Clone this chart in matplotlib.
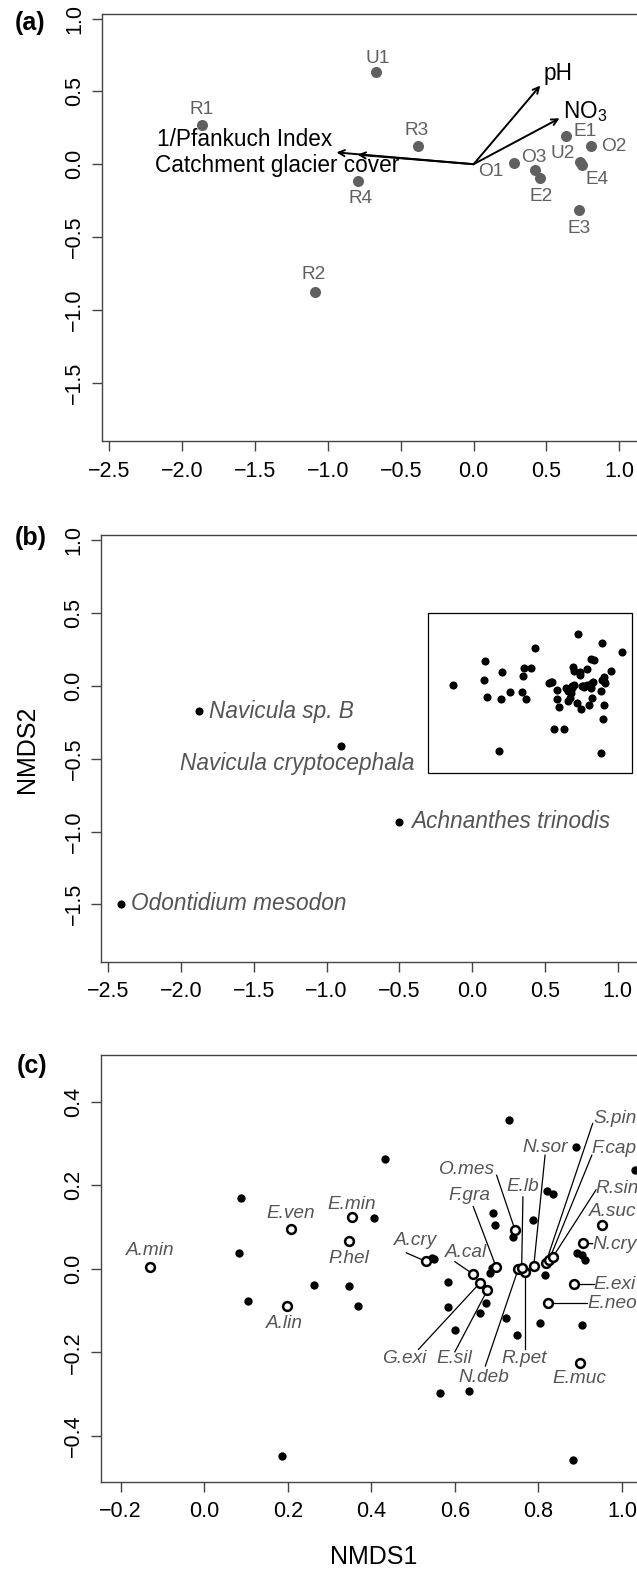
import matplotlib
matplotlib.use("Agg")
import matplotlib.pyplot as plt
from matplotlib.patches import Rectangle

plt.rcParams['font.family'] = ['Liberation Sans', 'DejaVu Sans']
plt.rcParams['mathtext.fontset'] = 'custom'
plt.rcParams['mathtext.rm'] = 'Liberation Sans'
plt.rcParams['mathtext.it'] = 'Liberation Sans:italic'

# (a) site scores
site_names = ['U1', 'R1', 'R3', 'R4', 'R2', 'O1', 'O3', 'E2', 'E1', 'O2', 'U2', 'E4', 'E3']
site_x = [-0.668, -1.864, -0.378, -0.791, -1.089, 0.280, 0.425, 0.459, 0.634, 0.807, 0.732, 0.746, 0.726]
site_y = [0.631, 0.271, 0.122, -0.116, -0.876, 0.008, -0.038, -0.095, 0.191, 0.122, 0.015, -0.008, -0.317]

# (a) fitted environmental vectors
vec_names = ['pH', 'NO$_3$', '1/Pfankuch Index', 'Catchment glacier cover']
vec_x = [0.458, 0.590, -0.941, -0.796]
vec_y = [0.540, 0.315, 0.081, 0.065]

# (b) outlying species
out_names = ['Navicula sp. B', 'Navicula cryptocephala', 'Achnanthes trinodis', 'Odontidium mesodon']
out_x = [-1.876, -0.899, -0.500, -2.415]
out_y = [-0.172, -0.410, -0.932, -1.497]
zoom_box = [-0.3, 1.1, -0.6, 0.5]   # xmin, xmax, ymin, ymax

# (c) unlabelled species
sp_x = [0.729, 0.432, 0.891, 1.032, 0.088, 0.407, 0.082, 0.545, 0.551, 0.692, 0.697, 0.740,
        0.788, 0.820, 0.836, 0.688, 0.683, 0.583, 0.584, 0.600, 0.675, 0.661, 0.723, 0.748,
        0.805, 0.815, 0.904, 0.892, 0.904, 0.912, 0.262, 0.346, 0.369, 0.105, 0.565, 0.633,
        0.187, 0.884]
sp_y = [0.356, 0.262, 0.292, 0.236, 0.170, 0.121, 0.038, 0.026, 0.024, 0.133, 0.105, 0.076,
        0.118, 0.186, 0.178, 0.003, -0.011, -0.031, -0.092, -0.147, -0.081, -0.105, -0.118, -0.159,
        -0.131, -0.016, -0.134, 0.038, 0.033, 0.021, -0.040, -0.041, -0.088, -0.077, -0.298, -0.293,
        -0.448, -0.458]

# (c) labelled species
lab_names = ['A.min', 'E.ven', 'E.min', 'P.hel', 'A.lin', 'A.cry', 'A.cal', 'G.exi', 'E.sil',
             'N.deb', 'R.pet', 'E.muc', 'F.gra', 'O.mes', 'E.lb', 'N.sor', 'S.pin', 'F.cap',
             'R.sin', 'A.suc', 'N.cry', 'E.exi', 'E.neo']
lab_x = [-0.131, 0.208, 0.354, 0.347, 0.197, 0.530, 0.644, 0.660, 0.678, 0.752, 0.767, 0.899,
         0.699, 0.744, 0.760, 0.789, 0.818, 0.826, 0.834, 0.953, 0.906, 0.886, 0.822]
lab_y = [0.005, 0.095, 0.125, 0.066, -0.090, 0.018, -0.013, -0.034, -0.051, 0.000, -0.008, -0.225,
         0.004, 0.093, 0.003, 0.007, 0.015, 0.022, 0.027, 0.106, 0.061, -0.037, -0.081]
# where the label text sits, and where its pointer line starts (None = no line)
text_x = [-0.129, 0.208, 0.353, 0.346, 0.192, 0.505, 0.628, 0.480, 0.599, 0.669, 0.766, 0.897,
          0.636, 0.628, 0.763, 0.817, 0.932, 0.928, 0.936, 0.920, 0.930, 0.932, 0.917]
text_y = [0.043, 0.133, 0.155, 0.025, -0.132, 0.067, 0.038, -0.215, -0.215, -0.261, -0.215, -0.263,
          0.176, 0.238, 0.196, 0.291, 0.360, 0.288, 0.193, 0.137, 0.057, -0.037, -0.083]
text_ha = ['center'] * 16 + ['left'] * 7
line_from = [None, None, None, None, None, (0.484, 0.038), (0.600, 0.017), (0.513, -0.193),
             (0.600, -0.199), (0.673, -0.233), (0.767, -0.193), None, (0.644, 0.149),
             (0.700, 0.224), (0.763, 0.172), (0.816, 0.272), (0.930, 0.348), (0.928, 0.272),
             (0.938, 0.189), None, (0.930, 0.060), (0.932, -0.037), (0.917, -0.081)]

W, H = 637, 1572
fig = plt.figure(figsize=(W / 100, H / 100), dpi=100)


def place(left, top, right, bottom):
    return fig.add_axes([left / W, 1 - bottom / H, (right - left) / W, (bottom - top) / H])


def style(ax):
    for s in ax.spines.values():
        s.set_color('#444444')
        s.set_linewidth(1.0)
    ax.tick_params(axis='both', length=7, width=1.0, color='#444444', labelsize=15.5)
    ax.tick_params(axis='x', pad=7)
    ax.tick_params(axis='y', pad=5, labelrotation=90)
    for t in ax.get_yticklabels():
        t.set_va('center')


grey = '#606060'
lab_grey = '#555555'

# ---------- (a)
ax = place(102, 14.3, 700, 441.3)
ax.set_xlim(-2.55, 1.554)
ax.set_ylim(-1.902, 1.029)
ax.set_xticks([-2.5, -2.0, -1.5, -1.0, -0.5, 0.0, 0.5, 1.0])
ax.set_yticks([-1.5, -1.0, -0.5, 0.0, 0.5, 1.0])
style(ax)
ax.scatter(site_x, site_y, s=48, color=grey, zorder=3)
site_off = [(1.6, 13.4), (0, 15.7), (-2, 16), (2.4, -17.7), (-1.2, 17), (-24, -8.4), (-2, 12),
            (1, -18.3), (19.3, 4.6), (22.6, 0), (-17.6, 8.4), (15, -14.3), (0, -18.3)]
for n, x, y, o in zip(site_names, site_x, site_y, site_off):
    ax.annotate(n, (x, y), xytext=o, textcoords='offset pixels', ha='center', va='center',
                fontsize=13.7, color=grey)
vec_off = [(18, 12), (25.6, 7), (-91.4, 12.7), (-80, -10.7)]
for n, x, y, o in zip(vec_names, vec_x, vec_y, vec_off):
    ax.annotate('', xy=(x, y), xytext=(0, 0),
                arrowprops=dict(arrowstyle='->', lw=1.4, color='black', mutation_scale=11,
                                shrinkA=0, shrinkB=0))
    ax.annotate(n, (x, y), xytext=o, textcoords='offset pixels', ha='center', va='center',
                fontsize=16.3, color='black')

# ---------- (b)
ax = place(101.2, 535, 700, 962)
ax.set_xlim(-2.549, 1.566)
ax.set_ylim(-1.896, 1.037)
ax.set_xticks([-2.5, -2.0, -1.5, -1.0, -0.5, 0.0, 0.5, 1.0])
ax.set_yticks([-1.5, -1.0, -0.5, 0.0, 0.5, 1.0])
style(ax)
ax.scatter(sp_x + lab_x, sp_y + lab_y, s=34, color='black', zorder=3, linewidths=0)
ax.scatter(out_x, out_y, s=34, color='black', zorder=3, linewidths=0)
ax.add_patch(Rectangle((zoom_box[0], zoom_box[2]), zoom_box[1] - zoom_box[0],
                       zoom_box[3] - zoom_box[2], fill=False, ec='black', lw=0.9))
out_off = [(10, 0, 'left'), (-43.7, -17.6, 'center'), (11.7, 0, 'left'), (10.3, 0, 'left')]
for n, x, y, o in zip(out_names, out_x, out_y, out_off):
    ax.annotate(n, (x, y), xytext=o[:2], textcoords='offset pixels', ha=o[2], va='center',
                fontsize=16.3, color=lab_grey, style='italic')

# ---------- (c)
ax = place(100.7, 1055, 700, 1481.7)
ax.set_xlim(-0.248, 1.187)
ax.set_ylim(-0.510, 0.512)
ax.set_xticks([-0.2, 0.0, 0.2, 0.4, 0.6, 0.8, 1.0])
ax.set_yticks([-0.4, -0.2, 0.0, 0.2, 0.4])
style(ax)
ax.scatter(sp_x, sp_y, s=36, color='black', zorder=3, linewidths=0)
for x, y, lf in zip(lab_x, lab_y, line_from):
    if lf is not None:
        ax.plot([lf[0], x], [lf[1], y], color='black', lw=0.9, zorder=2)
ax.scatter(lab_x, lab_y, s=40, facecolors='white', edgecolors='black', linewidths=1.8, zorder=4)
for n, tx, ty, ha in zip(lab_names, text_x, text_y, text_ha):
    ax.text(tx, ty, n, ha=ha, va='center', fontsize=13.7, color=lab_grey, style='italic')

# panel letters and axis titles
fig.text(30 / W, 1 - 23 / H, '(a)', fontsize=18, fontweight='bold', ha='center', va='center')
fig.text(30.5 / W, 1 - 538 / H, '(b)', fontsize=18, fontweight='bold', ha='center', va='center')
fig.text(32.5 / W, 1 - 1066 / H, '(c)', fontsize=18, fontweight='bold', ha='center', va='center')
fig.text(27 / W, 1 - 749 / H, 'NMDS2', fontsize=18, rotation=90, ha='center', va='center')
fig.text(374 / W, 1 - 1557 / H, 'NMDS1', fontsize=18, ha='center', va='center')

fig.savefig('out.png', dpi=100)
